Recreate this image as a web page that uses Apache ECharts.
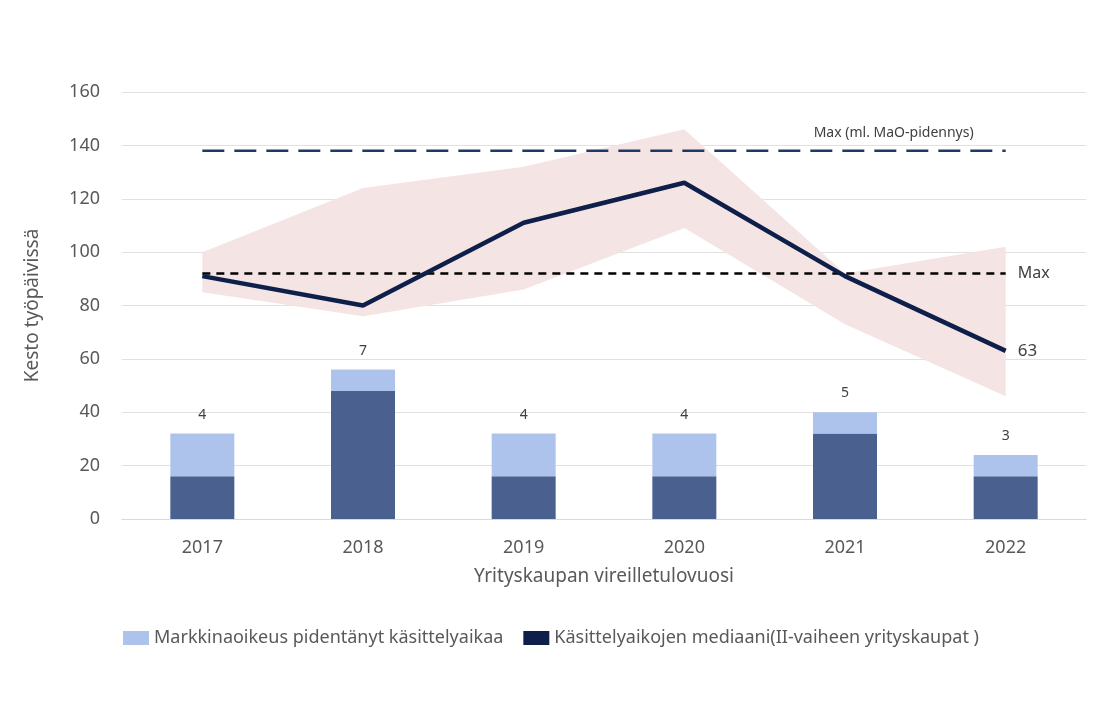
<!DOCTYPE html>
<html><head><meta charset="utf-8">
<script src="https://cdn.jsdelivr.net/npm/echarts@6/dist/echarts.min.js"></script>
<style>html,body{margin:0;padding:0;background:#fff}#c{width:1102px;height:714px}</style>
</head><body><div id="c"></div>
<script>
const years = ['2017','2018','2019','2020','2021','2022'];
const baseBars = [16, 48, 16, 16, 32, 16];
const extBars = [16, 8, 16, 16, 8, 8];
const counts = [4, 7, 4, 4, 5, 3];
const median = [91, 80, 111, 126, 91, 63];
const bandLow = [85, 76, 86, 109, 73, 46];
const bandHigh = [100, 124, 132, 146, 92, 102];
const maxLine = [92, 92, 92, 92, 92, 92];
const maxMaO = [138, 138, 138, 138, 138, 138];
const font = 'Noto Sans';
const txt = '#595959';
const chart = echarts.init(document.getElementById('c'));
chart.setOption({
  animation: false,
  textStyle: {fontFamily: font},
  grid: {left: 122, right: 16, top: 92, bottom: 195},
  legend: {
    bottom: 62, left: 'center', itemGap: 20,
    textStyle: {color: txt, fontSize: 18, fontFamily: font},
    data: [
      {name: 'Markkinaoikeus pidentänyt käsittelyaikaa', icon: 'rect', itemStyle: {color: '#aec3ec'}},
      {name: 'Käsittelyaikojen mediaani(II-vaiheen yrityskaupat )', icon: 'rect', itemStyle: {color: '#0e1f4a'}}
    ],
    itemWidth: 26, itemHeight: 14
  },
  xAxis: {
    type: 'category', data: years,
    name: 'Yrityskaupan vireilletulovuosi', nameLocation: 'middle', nameGap: 48,
    nameTextStyle: {color: txt, fontSize: 19},
    axisLine: {lineStyle: {color: '#d9d9d9'}}, axisTick: {show: false},
    axisLabel: {color: txt, fontSize: 18, margin: 20}
  },
  yAxis: {
    type: 'value', min: 0, max: 160, interval: 20,
    name: 'Kesto työpäivissä', nameLocation: 'middle', nameGap: 80,
    nameTextStyle: {color: txt, fontSize: 19},
    axisLabel: {color: txt, fontSize: 18, margin: 22},
    splitLine: {lineStyle: {color: '#e0e0e0'}}
  },
  series: [
    {name: 'lo', type: 'line', stack: 'band', data: bandLow, symbol: 'none', lineStyle: {opacity: 0}, silent: true},
    {name: 'band', type: 'line', stack: 'band', data: bandHigh.map((v, i) => v - bandLow[i]), symbol: 'none',
     lineStyle: {opacity: 0}, areaStyle: {color: '#f5e4e4', opacity: 1}, silent: true},
    {name: 'base', type: 'bar', stack: 'bars', data: baseBars, barWidth: 64, itemStyle: {color: '#4a6190'}},
    {name: 'Markkinaoikeus pidentänyt käsittelyaikaa', type: 'bar', stack: 'bars', data: extBars, barWidth: 64,
     itemStyle: {color: '#aec3ec'},
     label: {show: true, position: 'top', distance: 12, color: '#404040', fontSize: 14, formatter: p => counts[p.dataIndex]}},
    {name: 'Max', type: 'line', data: maxLine, symbol: 'none', lineStyle: {color: '#000', width: 2.5, type: [8, 6]},
     endLabel: {show: true, formatter: 'Max', color: '#404040', fontSize: 16, distance: 12}},
    {name: 'MaO', type: 'line', data: maxMaO, symbol: 'none', lineStyle: {color: '#1f3864', width: 2.5, type: [22, 10]},
     endLabel: {show: true, formatter: 'Max (ml. MaO-pidennys)', color: '#404040', fontSize: 14, offset: [-200, -18]}},
    {name: 'Käsittelyaikojen mediaani(II-vaiheen yrityskaupat )', type: 'line', data: median, symbol: 'none',
     lineStyle: {color: '#0e1f4a', width: 4.5},
     endLabel: {show: true, formatter: '{c}', color: '#404040', fontSize: 17, distance: 12}}
  ]
});
</script></body></html>
